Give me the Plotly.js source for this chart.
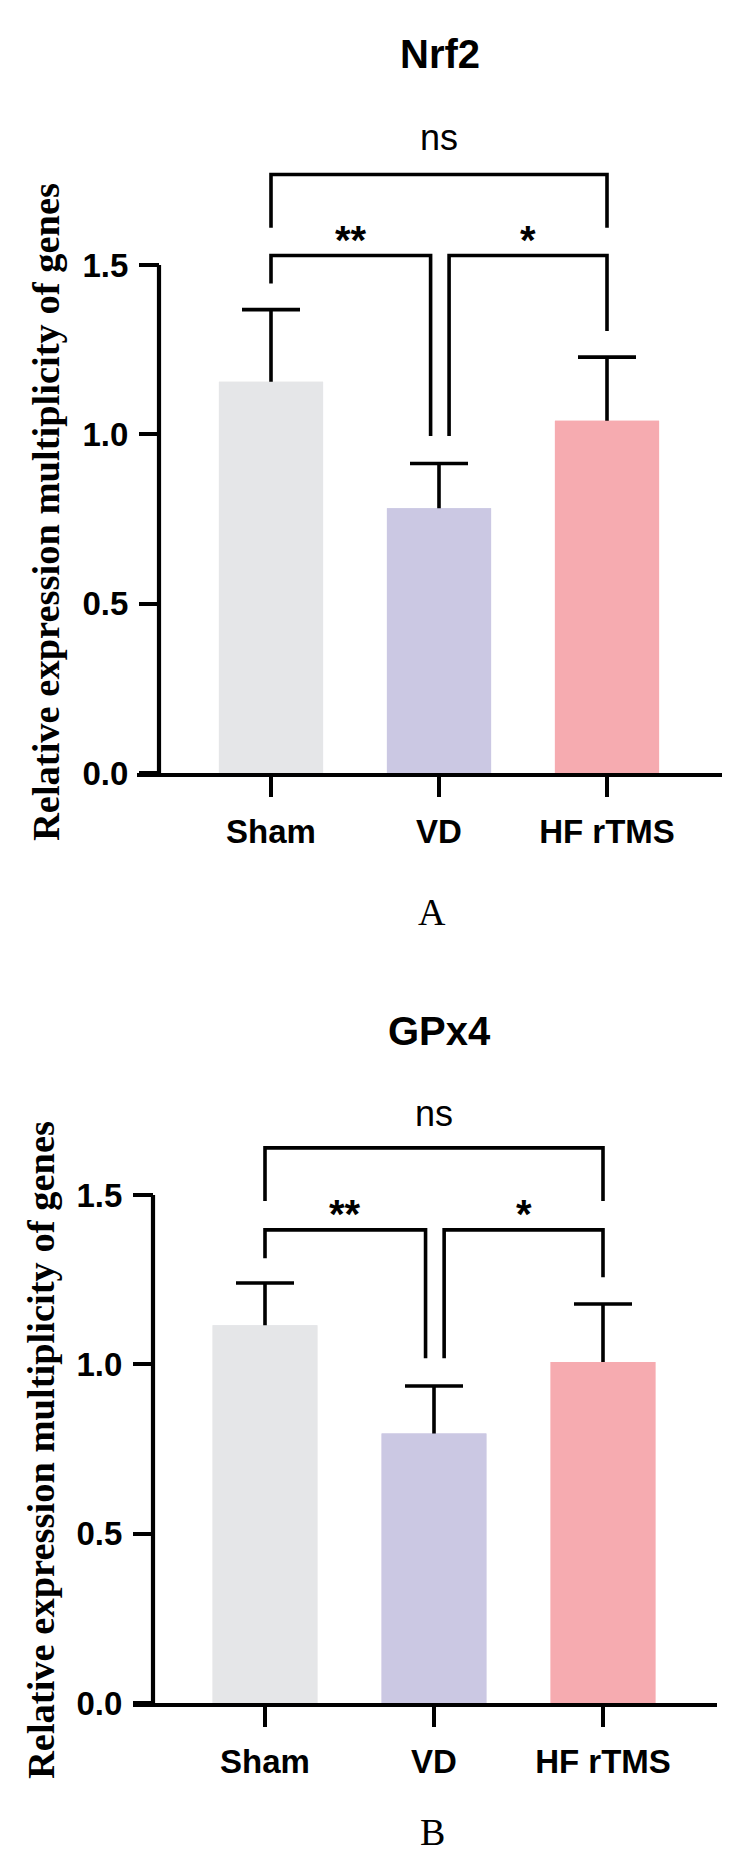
<!DOCTYPE html>
<html>
<head>
<meta charset="utf-8">
<script src="https://cdn.plot.ly/plotly-3.0.1.min.js"></script>
<style>
  html, body { margin: 0; padding: 0; background: #ffffff; }
  #chart { width: 737px; height: 1870px; }
</style>
</head>
<body>
<div id="chart"></div>
<script>
// ---------------- data ----------------
const categories = ['Sham', 'VD', 'HF rTMS'];
const catIndex = [0, 1, 2];
const barColors = ['#e5e6e8', '#cbc8e3', '#f6abb0'];

const nrf2Mean = [1.155, 0.782, 1.040];
const nrf2SD   = [0.213, 0.132, 0.188];
const gpx4Mean = [1.115, 0.796, 1.007];
const gpx4SD   = [0.125, 0.140, 0.171];

const yTickVals = [0, 0.5, 1.0, 1.5];
const yTickText = ['0.0', '0.5', '1.0', '1.5'];

const panelTitles  = ['Nrf2', 'GPx4'];
const panelLetters = ['A', 'B'];
const yTitleText   = 'Relative expression multiplicity of genes';

// significance comparisons (group index pairs) and their labels
const compPairs  = [[0, 1], [1, 2], [0, 2]];
const compLabels = ['**', '*', 'ns'];
// bracket heights and leg ends (data units)
const nrf2BracketY = [1.528, 1.528, 1.767];
const nrf2LegEnds  = [[1.445, 0.995], [0.995, 1.305], [1.610, 1.610]];
const nrf2LabelY   = [1.603, 1.603, 1.875];
const gpx4BracketY = [1.397, 1.397, 1.639];
const gpx4LegEnds  = [[1.313, 1.018], [1.018, 1.257], [1.482, 1.482]];
const gpx4LabelY   = [1.475, 1.475, 1.741];

// ---------------- layout geometry (pixels) ----------------
const W = 737, H = 1870;
const px = v => v / W;
const py = v => 1 - v / H;
const PXU = 338.7; // pixels per y unit

const panels = [
  { mean: nrf2Mean, sd: nrf2SD, bY: nrf2BracketY, legs: nrf2LegEnds, lY: nrf2LabelY,
    x0: 271, step: 168, xl: 137, xr: 722, yAxisPx: 159, zeroPx: 773, topPx: 20,
    titlePx: 54, letterPx: 912, yTitleX: 46, yTitleMid: 512 },
  { mean: gpx4Mean, sd: gpx4SD, bY: gpx4BracketY, legs: gpx4LegEnds, lY: gpx4LabelY,
    x0: 265, step: 169, xl: 133, xr: 717, yAxisPx: 153, zeroPx: 1703, topPx: 960,
    titlePx: 1031, letterPx: 1832, yTitleX: 41, yTitleMid: 1450 }
];

const tickFont = { family: 'Liberation Sans, Arial, sans-serif', size: 33, color: '#000', weight: 700 };
const data = [];
const layout = {
  width: W, height: H,
  margin: { l: 0, r: 0, t: 0, b: 0 },
  paper_bgcolor: '#ffffff', plot_bgcolor: 'rgba(0,0,0,0)',
  showlegend: false, barmode: 'overlay',
  shapes: [], annotations: []
};

panels.forEach((p, i) => {
  const xa = i === 0 ? 'x' : 'x2';
  const ya = i === 0 ? 'y' : 'y2';
  const xKey = i === 0 ? 'xaxis' : 'xaxis2';
  const yKey = i === 0 ? 'yaxis' : 'yaxis2';
  const xmin = (p.xl - p.x0) / p.step;
  const xmax = (p.xr - p.x0) / p.step;
  const ytop = (p.zeroPx - p.topPx) / PXU;
  const yAxisX = (p.yAxisPx - p.x0) / p.step;

  // bars with symmetric SD bars; the lower half is hidden by the overlaid opaque bars
  data.push({
    type: 'bar', x: catIndex, y: p.mean, width: 0.62,
    xaxis: xa, yaxis: ya,
    marker: { color: barColors, line: { width: 0 } },
    error_y: { type: 'data', symmetric: true, array: p.sd,
               color: '#000', thickness: 3.6, width: 29 },
    hoverinfo: 'none'
  });
  data.push({
    type: 'bar', x: catIndex, y: p.mean, width: 0.62,
    xaxis: xa, yaxis: ya,
    marker: { color: barColors, line: { width: 0 } },
    hoverinfo: 'none'
  });

  layout[xKey] = {
    domain: [px(p.xl), px(p.xr)], range: [xmin, xmax], anchor: ya,
    showline: true, linecolor: '#000', linewidth: 4.2,
    ticks: 'outside', ticklen: 20, tickwidth: 3.8, tickcolor: '#000',
    tickvals: catIndex, ticktext: categories, tickfont: tickFont,
    ticklabelstandoff: 6,
    showgrid: false, zeroline: false, fixedrange: true
  };
  layout[yKey] = {
    domain: [py(p.zeroPx), py(p.topPx)], range: [0, ytop],
    anchor: 'free', position: px(p.yAxisPx),
    showline: false,
    ticks: 'outside', ticklen: 20, tickwidth: 3.8, tickcolor: '#000',
    tickvals: yTickVals, ticktext: yTickText, tickfont: tickFont,
    ticklabelstandoff: 4,
    showgrid: false, zeroline: false, fixedrange: true
  };

  // y axis line from 0 to 1.5
  layout.shapes.push({
    type: 'line', xref: xa, yref: ya, x0: yAxisX, x1: yAxisX, y0: -0.006, y1: 1.5,
    line: { color: '#000', width: 4.2 }
  });

  // significance brackets
  compPairs.forEach((pair, k) => {
    const a = pair[0], b = pair[1];
    let xa0 = a, xb0 = b;
    if (k === 0) xb0 = b - 0.05;      // split legs at the shared VD group
    if (k === 1) xa0 = a + 0.06;
    const top = p.bY[k];
    const path = `M ${xa0},${p.legs[k][0]} L ${xa0},${top} L ${xb0},${top} L ${xb0},${p.legs[k][1]}`;
    layout.shapes.push({
      type: 'path', xref: xa, yref: ya, path: path,
      line: { color: '#000', width: 3.6 }
    });
    const isStar = compLabels[k] !== 'ns';
    layout.annotations.push({
      xref: xa, yref: ya, x: (xa0 + xb0) / 2, y: p.lY[k] - (isStar ? 0.03 : 0),
      text: compLabels[k], showarrow: false,
      font: isStar
        ? { family: 'Liberation Sans, Arial, sans-serif', size: 40, color: '#000', weight: 700 }
        : { family: 'Liberation Sans, Arial, sans-serif', size: 36, color: '#000' },
      xanchor: 'center', yanchor: 'middle'
    });
  });

  // panel title
  layout.annotations.push({
    xref: 'paper', yref: 'paper', x: px(440), y: py(p.titlePx),
    text: panelTitles[i], showarrow: false,
    font: { family: 'Liberation Sans, Arial, sans-serif', size: 40, color: '#000', weight: 700 },
    xanchor: 'center', yanchor: 'middle'
  });
  // panel letter
  layout.annotations.push({
    xref: 'paper', yref: 'paper', x: px(432), y: py(p.letterPx),
    text: panelLetters[i], showarrow: false,
    font: { family: 'Liberation Serif, Times New Roman, serif', size: 38, color: '#000' },
    xanchor: 'center', yanchor: 'middle'
  });
  // y axis title
  layout.annotations.push({
    xref: 'paper', yref: 'paper', x: px(p.yTitleX), y: py(p.yTitleMid),
    text: yTitleText, showarrow: false, textangle: -90,
    font: { family: 'Liberation Serif, Times New Roman, serif', size: 38.5, color: '#000', weight: 700 },
    xanchor: 'center', yanchor: 'middle'
  });
});

Plotly.newPlot('chart', data, layout, { displayModeBar: false, staticPlot: true });
</script>
</body>
</html>
